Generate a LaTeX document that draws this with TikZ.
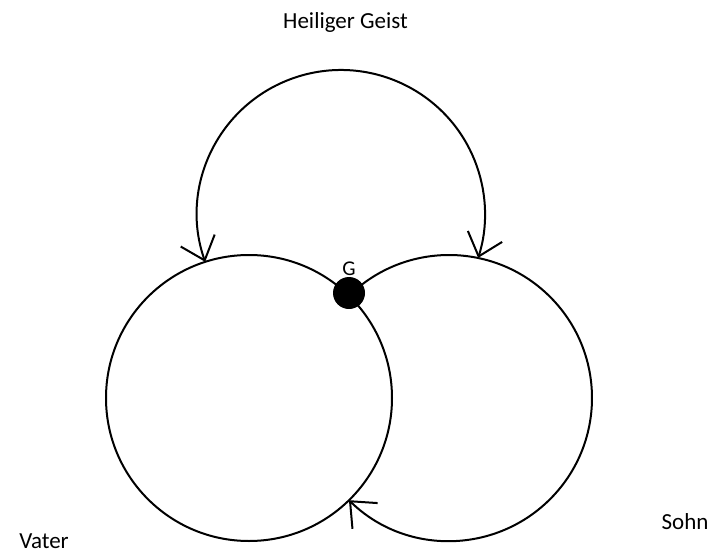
\documentclass[tikz,border=0pt]{standalone}
\usepackage{fontspec}
\setmainfont{Carlito}
\usetikzlibrary{arrows.meta}
\begin{document}
\begin{tikzpicture}[x=1pt,y=1pt,
  ring/.style={line width=2pt},
  barbtip/.tip={Straight Barb[length=21pt,width=36pt]},
  lbl/.style={font=\fontsize{23}{27}\selectfont, anchor=base, inner sep=0pt},
  glbl/.style={font=\fontsize{21}{25}\selectfont, anchor=base, inner sep=0pt}]
\useasboundingbox (0,0) rectangle (713,-554);
\coordinate (cv) at (249,-398);
\coordinate (cs) at (449,-398);
\coordinate (ch) at (341,-214);
\coordinate (g) at ([shift={(134.4:143)}]cs);
\coordinate (hl) at ([shift={(199.4:144)}]ch);
% Vater circle
\draw[ring] (cv) circle[radius=143];
% Sohn arc
\draw[ring, -barbtip] (g) arc[start angle=134.4, end angle=-134.4, radius=143];
% Heiliger Geist arc
\draw[ring, barbtip-barbtip] (hl) arc[start angle=199.4, end angle=-17.75, radius=144];
% G dot
\node[circle, fill, minimum size=32pt, inner sep=0pt] (gdot) at (349,-293) {};
\node[glbl] (glabel) at (349,-275) {G};
% labels
\node[lbl] (geist) at (345.5,-28.3) {Heiliger Geist};
\node[lbl] (vater) at (44,-548) {Vater};
\node[lbl] (sohn) at (685,-529) {Sohn};
\end{tikzpicture}
\end{document}
